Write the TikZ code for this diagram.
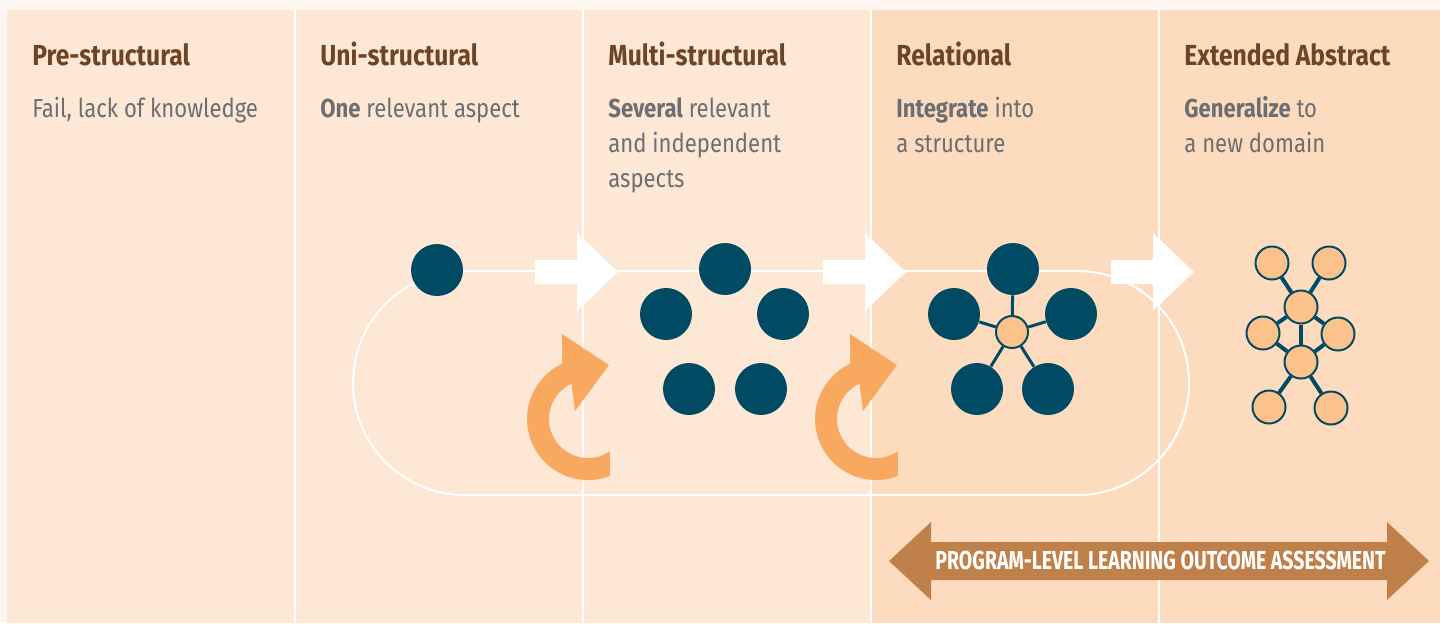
\documentclass[tikz,border=0pt]{standalone}
\usepackage{fontspec}
\setmainfont{Fira Sans}[FakeStretch=0.85]
\newfontfamily\bannerfont{Fira Sans}[FakeStretch=0.75]
\usetikzlibrary{positioning}
\definecolor{outerbg}{HTML}{FEF6F0}
\definecolor{panellight}{HTML}{FDE8D6}
\definecolor{paneldark}{HTML}{FDDBBE}
\definecolor{titlebrown}{HTML}{6E4524}
\definecolor{descgray}{HTML}{6D6E71}
\definecolor{deepteal}{HTML}{004B63}
\definecolor{loopgold}{HTML}{F9A95F}
\definecolor{dotpeach}{HTML}{FBC28C}
\definecolor{bannerbrown}{HTML}{C0804A}
\tikzset{
  level/.style={anchor=base west, inner sep=0, text=titlebrown, font=\fontsize{14.5}{17.5}\selectfont\bfseries},
  descr/.style={anchor=base west, inner sep=0, text=descgray, align=left, font=\fontsize{13}{17.5}\selectfont},
  dot/.style={circle, fill=deepteal, minimum size=26pt, inner sep=0},
  hub/.style={circle, draw=deepteal, line width=1pt, fill=dotpeach, minimum size=16pt, inner sep=0},
  knot/.style={circle, draw=deepteal, line width=1pt, fill=dotpeach, minimum size=16.5pt, inner sep=0},
  link/.style={draw=deepteal, line width=1.5pt},
  thicklink/.style={draw=deepteal, line width=2pt}
}
\begin{document}
\begin{tikzpicture}[x=0.5pt, y=-0.5pt]
    \useasboundingbox (0,0) rectangle (1440,623);

    % Fundo
    \fill[outerbg] (0,0) rectangle (1440,623);
    \fill[panellight] (7,10) rectangle (871,623);
    \fill[paneldark] (871,10) rectangle (1440,623);
    \foreach \x in {295,583,871,1159}
        \draw[white, line width=1pt] (\x,10) -- (\x,623);

    % Ciclo
    \draw[white, line width=1pt, rounded corners=55.9pt] (353,271) rectangle (1189,495);

    % Setas brancas
    \foreach \s in {0,288,576}
        \fill[white] (535+\s,260) -- ++(42,0) -- ++(0,-27) -- ++(41,39) -- ++(-41,39) -- ++(0,-27) -- ++(-42,0) -- cycle;

    % Setas curvas
    \foreach \s in {0,288}
        \fill[loopgold] (588+\s,419) ++(69:61) arc[start angle=69, end angle=245, radius=61]
            -- (562+\s,334) -- (609+\s,365) -- (575+\s,411) -- (571.5+\s,383.7)
            arc[start angle=245, end angle=56, radius=39] -- cycle;

    % Titulos (base = ultima linha)
    \node[level] (pre) at (32,65) {Pre-structural};
    \node[level] (uni) at (320,65) {Uni-structural};
    \node[level] (multi) at (608,65) {Multi-structural};
    \node[level] (rel) at (896,65) {Relational};
    \node[level] (ext) at (1184,65) {Extended Abstract};

    \node[descr] (predesc) at (32,117) {Fail, lack of knowledge};
    \node[descr] (unidesc) at (320,117) {\textbf{One} relevant aspect};
    \node[descr] (multidesc) at (608,187) {\textbf{Several} relevant\\and independent\\aspects};
    \node[descr] (reldesc) at (896,152) {\textbf{Integrate} into\\a structure};
    \node[descr] (extdesc) at (1184,152) {\textbf{Generalize} to\\a new domain};

    % Uni
    \node[dot] (u1) at (437,270) {};

    % Multi
    \node[dot] (m1) at (725,269) {};
    \node[dot] (m2) at (666,314) {};
    \node[dot] (m3) at (783,314) {};
    \node[dot] (m4) at (689,389) {};
    \node[dot] (m5) at (761,389) {};

    % Relational
    \node[dot] (r1) at (1013,269) {};
    \node[dot] (r2) at (954,314) {};
    \node[dot] (r3) at (1071,314) {};
    \node[dot] (r4) at (977,389) {};
    \node[dot] (r5) at (1048,389) {};
    \node[hub] (rc) at (1012,332) {};
    \foreach \n in {r1,r2,r3,r4,r5}
        \draw[link] (rc) -- (\n);

    % Extended abstract
    \node[knot] (e1) at (1272,263) {};
    \node[knot] (e2) at (1329,263) {};
    \node[knot] (e3) at (1301,307) {};
    \node[knot] (e4) at (1263,333) {};
    \node[knot] (e5) at (1338,334) {};
    \node[knot] (e6) at (1301,362) {};
    \node[knot] (e7) at (1269,407) {};
    \node[knot] (e8) at (1331,408) {};
    \foreach \a/\b in {e3/e1,e3/e2,e3/e4,e3/e5,e3/e6,e6/e4,e6/e5,e6/e7,e6/e8}
        \draw[thicklink] (\a) -- (\b);

    % Avaliacao
    \fill[bannerbrown] (889,561) -- (931,522) -- (931,542) -- (1387,542) -- (1387,522) -- (1429,561)
        -- (1387,600) -- (1387,580) -- (931,580) -- (931,600) -- cycle;
    \node[anchor=base, inner sep=0, text=white, font=\bannerfont\fontsize{13}{16}\selectfont\bfseries] (assess) at (1160.5,569) {PROGRAM-LEVEL LEARNING OUTCOME ASSESSMENT};

\end{tikzpicture}
\end{document}
